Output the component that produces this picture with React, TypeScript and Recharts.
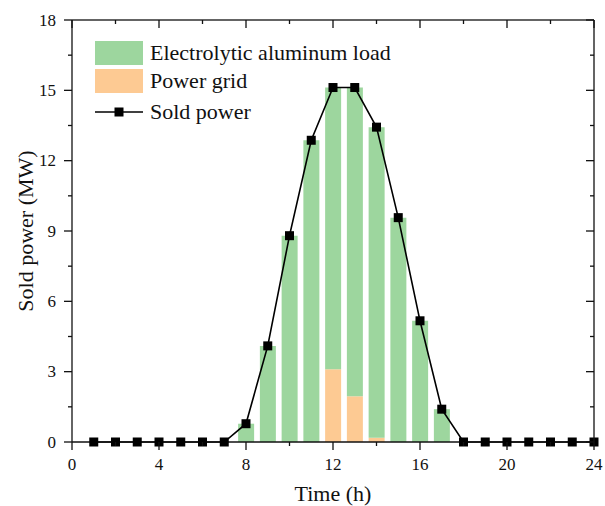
import { ComposedChart, Bar, Line, XAxis, YAxis, Legend } from "recharts";

const hours = [1, 2, 3, 4, 5, 6, 7, 8, 9, 10, 11, 12, 13, 14, 15, 16, 17, 18, 19, 20, 21, 22, 23, 24];
const loadMW = [0, 0, 0, 0, 0, 0, 0, 0.78, 4.1, 8.8, 12.87, 12.02, 13.17, 13.25, 9.57, 5.17, 1.4, 0, 0, 0, 0, 0, 0, 0];
const gridMW = [0, 0, 0, 0, 0, 0, 0, 0, 0, 0, 0, 3.1, 1.95, 0.18, 0, 0, 0, 0, 0, 0, 0, 0, 0, 0];
const soldMW = [0, 0, 0, 0, 0, 0, 0, 0.78, 4.1, 8.8, 12.87, 15.12, 15.12, 13.43, 9.57, 5.17, 1.4, 0, 0, 0, 0, 0, 0, 0];
const xTicks = [0, 2, 4, 6, 8, 10, 12, 14, 16, 18, 20, 22, 24];
const xLabels = [0, 4, 8, 12, 16, 20, 24];
const yTicks = [0, 1.5, 3, 4.5, 6, 7.5, 9, 10.5, 12, 13.5, 15, 16.5, 18];
const yLabels = [0, 3, 6, 9, 12, 15, 18];

const data = hours.map((h, i) => ({ h, load: loadMW[i], grid: gridMW[i], sold: soldMW[i] }));

const FONT = "'Liberation Serif', 'Times New Roman', serif";
const GREEN = "#9dd69e";
const ORANGE = "#fdca93";
const INK = "#111";
const MAJOR = 8;
const MINOR = 4;
const LW = 1.3;

const W = 605;
const H = 506;
const MARGIN = { top: 20, right: 11, bottom: 0, left: 0 };
const PLOT_TOP = MARGIN.top;
const PLOT_RIGHT = W - MARGIN.right;

// Ticks drawn by hand (filled rects) so major/minor can differ. Each tick also draws its
// inward twin on the top/right edge of the box, and the last one draws the frame edge.
const BottomTick = ({ x, y, payload }: any) => {
  const major = xLabels.includes(payload.value);
  const len = major ? MAJOR : MINOR;
  return (
    <g>
      <rect x={x - LW / 2} y={y} width={LW} height={len} fill={INK} />
      <rect x={x - LW / 2} y={PLOT_TOP} width={LW} height={len} fill={INK} />
      {payload.value === 24 && <rect x={x - LW / 2} y={PLOT_TOP} width={LW} height={y - PLOT_TOP} fill={INK} />}
      {major && (
        <text x={x} y={y + 22} textAnchor="middle" dominantBaseline="central" fontSize={17} fontFamily={FONT} fill={INK}>
          {payload.value}
        </text>
      )}
    </g>
  );
};

const LeftTick = ({ x, y, payload }: any) => {
  const major = yLabels.includes(payload.value);
  const len = major ? MAJOR : MINOR;
  return (
    <g>
      <rect x={x - len} y={y - LW / 2} width={len} height={LW} fill={INK} />
      <rect x={PLOT_RIGHT - len} y={y - LW / 2} width={len} height={LW} fill={INK} />
      {payload.value === 18 && <rect x={x} y={y - LW / 2} width={PLOT_RIGHT - x} height={LW} fill={INK} />}
      {major && (
        <text x={x - 16} y={y} textAnchor="end" dominantBaseline="central" fontSize={17} fontFamily={FONT} fill={INK}>
          {payload.value}
        </text>
      )}
    </g>
  );
};

const SquareDot = ({ cx, cy, index }: any) => (
  <rect key={index} x={cx - 4.5} y={cy - 4.5} width={9} height={9} fill="#000" />
);

const LegendBox = () => (
  <div style={{ fontFamily: FONT, fontSize: 22, color: INK, lineHeight: "24px" }}>
    <div style={{ display: "flex", alignItems: "center", height: 25 }}>
      <span style={{ width: 48, height: 24, background: GREEN, marginRight: 7 }} />
      Electrolytic aluminum load
    </div>
    <div style={{ display: "flex", alignItems: "center", height: 25, marginTop: 3 }}>
      <span style={{ width: 48, height: 24, background: ORANGE, marginRight: 7 }} />
      Power grid
    </div>
    <div style={{ display: "flex", alignItems: "center", height: 25, marginTop: 6 }}>
      <svg width={48} height={12} style={{ marginRight: 7 }}>
        <line x1={0} x2={48} y1={6} y2={6} stroke="#000" strokeWidth={1.6} />
        <rect x={19.5} y={1.5} width={9} height={9} fill="#000" />
      </svg>
      Sold power
    </div>
  </div>
);

export default function App() {
  return (
    <div style={{ position: "absolute", left: 0, top: 0, background: "#fff" }}>
      <ComposedChart width={W} height={H} data={data} margin={MARGIN}>
        <XAxis
          dataKey="h" type="number" domain={[0, 24]} ticks={xTicks} interval={0} height={64}
          tickSize={0} tickMargin={0} tick={<BottomTick />} tickLine={false}
          axisLine={{ stroke: INK, strokeWidth: LW }}
          label={{
            content: ({ viewBox }: any) => (
              <text x={viewBox.x + viewBox.width / 2} y={viewBox.y + 51} textAnchor="middle" dominantBaseline="central" fontSize={22} fontFamily={FONT} fill={INK}>
                Time (h)
              </text>
            ),
          }}
        />
        <YAxis
          type="number" domain={[0, 18]} ticks={yTicks} interval={0} width={72}
          tickSize={0} tickMargin={0} tick={<LeftTick />} tickLine={false}
          axisLine={{ stroke: INK, strokeWidth: LW }}
          label={{
            content: ({ viewBox }: any) => {
              const cx = viewBox.x + 25;
              const cy = viewBox.y + viewBox.height / 2;
              return (
                <text x={cx} y={cy} transform={`rotate(-90 ${cx} ${cy})`} textAnchor="middle" dominantBaseline="central" fontSize={22} fontFamily={FONT} fill={INK}>
                  Sold power (MW)
                </text>
              );
            },
          }}
        />
        <Legend layout="vertical" align="center" verticalAlign="middle" content={<LegendBox />}
          wrapperStyle={{ position: "absolute", left: 95, top: 40, width: 330 }} />
        <Bar dataKey="grid" stackId="a" fill={ORANGE} barSize={16} isAnimationActive={false} />
        <Bar dataKey="load" stackId="a" fill={GREEN} barSize={16} isAnimationActive={false} />
        <Line dataKey="sold" stroke="#000" strokeWidth={1.6} dot={<SquareDot />} activeDot={false} isAnimationActive={false} />
      </ComposedChart>
    </div>
  );
}
